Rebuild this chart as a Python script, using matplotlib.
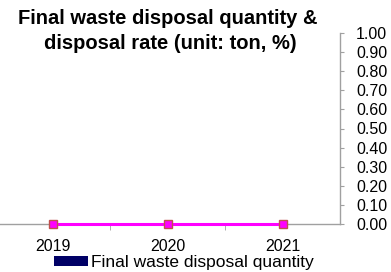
import numpy as np
import matplotlib
matplotlib.use('Agg')
import matplotlib.pyplot as plt

plt.rcParams['font.family'] = ['Liberation Sans', 'DejaVu Sans']

years = ['2019', '2020', '2021']
waste_quantity = [0, 0, 0]
disposal_rate = [0, 0, 0]
rate_ticks = [0.0, 0.1, 0.2, 0.3, 0.4, 0.5, 0.6, 0.7, 0.8, 0.9, 1.0]

W, H = 391, 272
fig = plt.figure(figsize=(W / 100, H / 100), dpi=100)
ax = fig.add_axes([-5 / W, 1 - 224 / H, 345 / W, 191 / H])

x = np.arange(len(years))
ax.bar(x, waste_quantity, width=0.5, color='#000066', label='Final waste disposal quantity')
ax.plot(x, disposal_rate, color='#FF00FF', lw=2.2, marker='s', markersize=6,
        markerfacecolor='#FF00FF', markeredgecolor='#C0504D', markeredgewidth=1, zorder=5,
        clip_on=False)

ax.set_xlim(-0.5, 2.5)
ax.set_ylim(0, 1)
ax.set_xticks(x)
ax.set_xticklabels(years, fontsize=11.5)
ax.set_xticks([0.5, 1.5], minor=True)
ax.tick_params(axis='x', which='major', length=0, pad=10.5)
ax.tick_params(axis='x', which='minor', length=4, color='#A0A0A0', direction='out')

ax.yaxis.tick_right()
ax.set_yticks(rate_ticks)
ax.set_yticklabels([f'{v:.2f}' for v in rate_ticks], fontsize=11.5)
ax.tick_params(axis='y', length=3, color='#A0A0A0', direction='out', pad=8.5)

for s in ['top', 'left']:
    ax.spines[s].set_visible(False)
for s in ['bottom', 'right']:
    ax.spines[s].set_color('#A0A0A0')
    ax.spines[s].set_linewidth(1)

fig.text(168 / W, 1 - 24 / H, 'Final waste disposal quantity &',
         ha='center', va='baseline', fontsize=14.5, fontweight='bold')
fig.text(170 / W, 1 - 49 / H, 'disposal rate (unit: ton, %)',
         ha='center', va='baseline', fontsize=14.5, fontweight='bold')

fig.legend(loc='center', bbox_to_anchor=(184 / W, 1 - 263 / H), frameon=False, fontsize=12.5,
           handlelength=1.96, handleheight=0.52, handletextpad=0.17, borderpad=0, borderaxespad=0)

fig.savefig('out.png', dpi=100)
